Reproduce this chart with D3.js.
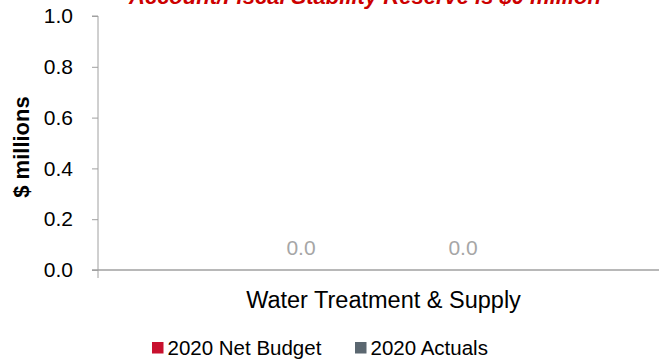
<!DOCTYPE html>
<html><head><meta charset="utf-8">
<script src="https://cdn.jsdelivr.net/npm/d3@7"></script>
<style>body{margin:0;background:#fff}svg{display:block;font-family:Arial,"Liberation Sans",sans-serif}</style>
</head><body><svg id="c" width="659" height="360"></svg>
<script>
const categories = ["Water Treatment & Supply"];
const seriesNames = ["2020 Net Budget", "2020 Actuals"];
const seriesColors = ["#c8102e", "#5b6770"];
const netBudget = [0.0];
const actuals = [0.0];
const yTicks = [0, 0.2, 0.4, 0.6, 0.8, 1.0];
const titleText = "Account/Fiscal Stability Reserve is $0 million";
const yLabel = "$ millions";

const FONT = "Arial, 'Liberation Sans', sans-serif";
const svg = d3.select("#c");
const m = {l: 98, r: 659, t: 16, b: 270};
const y = d3.scaleLinear().domain([0, 1]).range([m.b, m.t]);
const x0 = d3.scaleBand().domain(categories).range([m.l, m.r]);
const x1 = d3.scaleBand().domain(seriesNames).range([x0.bandwidth()*0.2175, x0.bandwidth()*0.795]);

// title (mostly clipped at the top edge, as in the reference)
svg.append("text").attr("x", 365).attr("y", 3.5).attr("text-anchor", "middle")
  .attr("fill", "#cc0000").attr("font-size", 22).attr("font-weight", "bold").attr("font-style", "italic")
  .text(titleText);

// y axis
const ya = svg.append("g").attr("transform", `translate(${m.l},0)`)
  .call(d3.axisLeft(y).tickValues(yTicks).tickFormat(d3.format(".1f")).tickSize(6).tickPadding(19));
ya.select(".domain").attr("stroke", "#a0a0a0").attr("d", `M-6,${m.t}H0V${m.b}`);
ya.selectAll(".tick line").attr("stroke", "#a0a0a0");
ya.selectAll(".tick text").attr("font-size", 21).attr("fill", "#000").attr("font-family", FONT);

svg.append("text").attr("transform", `translate(29,147) rotate(-90)`).attr("text-anchor", "middle")
  .attr("font-size", 22).attr("font-weight", "bold").attr("fill", "#000").text(yLabel);

// x axis
const xa = svg.append("g").attr("transform", `translate(0,${m.b})`)
  .call(d3.axisBottom(x0).tickSize(0).tickPadding(21));
xa.select(".domain").attr("stroke", "#a0a0a0").attr("stroke-width", 1.5).attr("d", `M${m.l-6},0H${m.r}`);
xa.selectAll(".tick text").attr("font-size", 23.5).attr("fill", "#000").attr("dx", 5).attr("font-family", FONT);
svg.append("line").attr("x1", m.l).attr("x2", m.l).attr("y1", m.b).attr("y2", m.b+8).attr("stroke", "#a0a0a0");

// bars (zero height) and value labels
const data = categories.map((c, i) => ({c, vals: [netBudget[i], actuals[i]]}));
const g = svg.append("g");
data.forEach(d => {
  d.vals.forEach((v, j) => {
    const cx = x0(d.c) + x1(seriesNames[j]) + x1.bandwidth()/2;
    g.append("rect").attr("x", cx - 40).attr("width", 80)
      .attr("y", y(v)).attr("height", y(0) - y(v)).attr("fill", seriesColors[j]);
    g.append("text").attr("x", cx).attr("y", y(v) - 15)
      .attr("text-anchor", "middle").attr("font-size", 21).attr("fill", "#a6a6a6")
      .text(d3.format(".1f")(v));
  });
});

// legend
const legX = [152, 355];
seriesNames.forEach((s, i) => {
  svg.append("rect").attr("x", legX[i]).attr("y", 342).attr("width", 11.5).attr("height", 11.5).attr("fill", seriesColors[i]);
  svg.append("text").attr("x", legX[i] + 15.5).attr("y", 355).attr("font-size", 20.5).attr("fill", "#000").text(s);
});
</script></body></html>
